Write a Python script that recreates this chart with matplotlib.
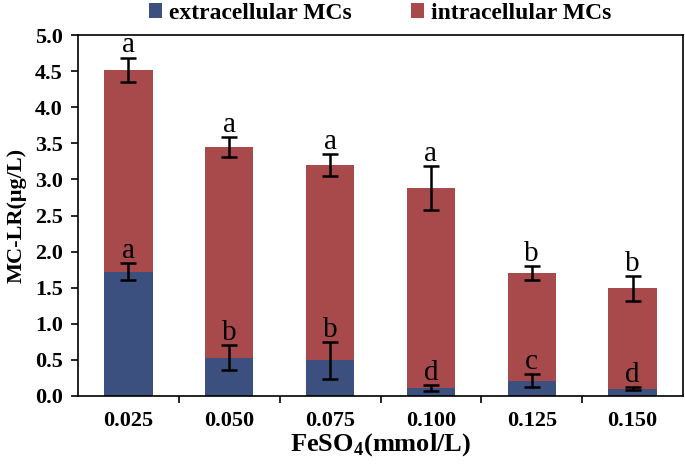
import matplotlib.pyplot as plt
import numpy as np

plt.rcParams['font.family'] = ['Liberation Serif', 'DejaVu Serif']
plt.rcParams['mathtext.fontset'] = 'custom'
plt.rcParams['mathtext.rm'] = 'Liberation Serif'
plt.rcParams['mathtext.bf'] = 'Liberation Serif:bold'

conc = ['0.025', '0.050', '0.075', '0.100', '0.125', '0.150']
extra = [1.72, 0.53, 0.49, 0.11, 0.21, 0.10]
extra_err = [0.12, 0.17, 0.25, 0.04, 0.09, 0.02]
total = [4.52, 3.45, 3.20, 2.88, 1.70, 1.49]
total_err = [0.17, 0.14, 0.15, 0.30, 0.10, 0.17]
extra_letters = ['a', 'b', 'b', 'd', 'c', 'd']
total_letters = ['a', 'a', 'a', 'a', 'b', 'b']

blue = '#3c5080'
red = '#a84a4c'

fig = plt.figure(figsize=(6.85, 4.69), dpi=100)
ax = fig.add_axes([0.114, 0.156, 0.883, 0.769])

x = np.arange(len(conc))
intra = np.array(total) - np.array(extra)
w = 0.48
ax.bar(x, extra, w, color=blue, label='extracellular MCs')
ax.bar(x, intra, w, bottom=extra, color=red, label='intracellular MCs')

ekw = dict(fmt='none', ecolor='black', elinewidth=1.8, capsize=6, capthick=1.8)
ax.errorbar(x, extra, yerr=extra_err, **ekw)
ax.errorbar(x, total, yerr=total_err, **ekw)

for i in range(len(conc)):
    ax.text(x[i], extra[i] + extra_err[i] + 0.07, extra_letters[i],
            ha='center', va='baseline', fontsize=21)
    ax.text(x[i], total[i] + total_err[i] + 0.07, total_letters[i],
            ha='center', va='baseline', fontsize=21)

ax.set_xlim(-0.5, 5.5)
ax.set_ylim(0, 5.0)
ax.set_yticks(np.arange(0, 5.01, 0.5))
ax.set_yticklabels([f'{v:.1f}' for v in np.arange(0, 5.01, 0.5)],
                   fontweight='bold', fontsize=16)
ax.set_xticks(x)
ax.set_xticklabels(conc, fontweight='bold', fontsize=16)
ax.tick_params(axis='x', which='major', length=0, pad=11)
ax.set_xticks(np.arange(0.5, 5.5, 1.0), minor=True)
ax.tick_params(axis='x', which='minor', length=5, width=1.2, direction='out')
ax.tick_params(axis='y', length=5, width=1.2, direction='out', pad=6)
for s in ax.spines.values():
    s.set_linewidth(1.2)

ax.set_xlabel('FeSO$_\\mathbf{4}$(mmol/L)', fontweight='bold', fontsize=19, labelpad=0)
ax.set_ylabel('MC-LR(μg/L)', fontweight='bold', fontsize=16, labelpad=6)

ax.legend(loc='lower center', bbox_to_anchor=(0.5, 1.005), ncol=2, frameon=False,
          prop={'weight': 'bold', 'size': 17}, handlelength=0.55, handleheight=0.55,
          handletextpad=0.3, columnspacing=2.5, borderaxespad=0)

fig.savefig('out.png', dpi=100)
